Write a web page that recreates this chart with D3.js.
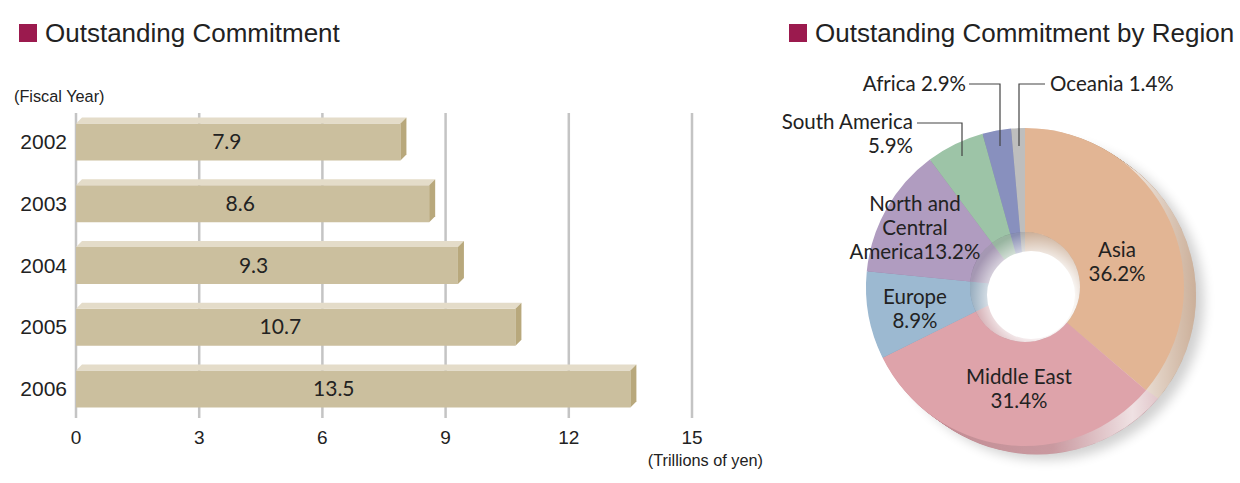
<!DOCTYPE html>
<html><head><meta charset="utf-8">
<script src="https://cdn.jsdelivr.net/npm/d3@7/dist/d3.min.js"></script>
<style>
html,body{margin:0;padding:0;background:#fff;}
svg{display:block;}
</style></head>
<body><svg id="c" width="1240" height="483"></svg>
<script>
// ---- data ----
const years = ["2002","2003","2004","2005","2006"];
const commitment = [7.9, 8.6, 9.3, 10.7, 13.5];
const xTicks = [0, 3, 6, 9, 12, 15];
const regions = ["Asia","Middle East","Europe","North and Central America","South America","Africa","Oceania"];
const regionShare = [36.2, 31.4, 8.9, 13.2, 5.9, 2.9, 1.4];

// ---- styles ----
const regionColor = ["#e2b594","#dea3aa","#9cb9d1","#b09cc0","#9dc4a7","#8890be","#bebebe"];
const regionSide  = ["#bf9c80","#c08890","#7f9ab0","#8f7ea0","#7fa389","#6c73a0","#9c9c9c"];
const svg = d3.select("#c");
const titleFont = "'Liberation Sans', Arial, Helvetica, sans-serif";
const labelFont = "Lato, 'Open Sans', sans-serif";

// ---- titles ----
function title(x, y, txt){
  svg.append("rect").attr("x",x).attr("y",y).attr("width",18).attr("height",18).attr("fill","#9b1a4e");
  svg.append("text").attr("x",x+26).attr("y",y+18).attr("font-family",titleFont)
    .attr("font-size",26).attr("fill","#222").text(txt);
}
title(19, 24, "Outstanding Commitment");
title(789, 24, "Outstanding Commitment by Region");

// ---- bar chart ----
const x = d3.scaleLinear().domain([0,15]).range([76,692]);
const y = d3.scalePoint().domain(years).range([142,389]);
const bh = 37, dep = 6;

svg.append("text").attr("x",14).attr("y",102).attr("font-family",titleFont)
  .attr("font-size",16.3).attr("fill","#222").text("(Fiscal Year)");

const grid = svg.append("g");
xTicks.forEach(t=>{
  grid.append("line").attr("x1",x(t)).attr("x2",x(t)).attr("y1",113).attr("y2",418)
    .attr("stroke","#c4c4c4").attr("stroke-width",2.5);
  svg.append("text").attr("x",x(t)).attr("y",444).attr("text-anchor","middle")
    .attr("font-family",titleFont).attr("font-size",19).attr("fill","#222").text(t);
});
svg.append("text").attr("x",763).attr("y",466).attr("text-anchor","end").attr("font-family",titleFont)
  .attr("font-size",16.3).attr("fill","#222").text("(Trillions of yen)");

const bars = svg.append("g");
years.forEach((yr,i)=>{
  const v = commitment[i];
  const x0 = x(0), x1 = x(v), yt = y(yr)-bh/2, yb = y(yr)+bh/2;
  bars.append("rect").attr("x",x0).attr("y",yt).attr("width",x1-x0).attr("height",bh).attr("fill","#cbbf9e");
  bars.append("path").attr("d",`M${x0},${yt}L${x0+dep},${yt-dep}L${x1+dep},${yt-dep}L${x1},${yt}Z`).attr("fill","#e4dcc9");
  bars.append("path").attr("d",`M${x1},${yt}L${x1+dep},${yt-dep}L${x1+dep},${yb-dep}L${x1},${yb}Z`).attr("fill","#b8a87c");
  svg.append("text").attr("x",x0+(x1-x0)*0.465).attr("y",y(yr)+7).attr("text-anchor","middle")
    .attr("font-family",labelFont).attr("font-size",21).attr("fill","#222").text(v.toFixed(1));
  svg.append("text").attr("x",67).attr("y",y(yr)+7).attr("text-anchor","end")
    .attr("font-family",titleFont).attr("font-size",21).attr("fill","#222").text(yr);
});

// ---- donut ----
const cx = 1025, cy = 287, R = 159, rIn = 55;
const pie = d3.pie().sort(null).value(d=>d)(regionShare);
const defs = svg.append("defs");
const blur = defs.append("filter").attr("id","blur").attr("x","-20%").attr("y","-20%").attr("width","140%").attr("height","140%");
blur.append("feGaussianBlur").attr("stdDeviation",6);
const gl = defs.append("linearGradient").attr("id","sideLight").attr("x1","0").attr("y1","0").attr("x2","1").attr("y2","0");
gl.append("stop").attr("offset","0").attr("stop-color","#fff").attr("stop-opacity",0);
gl.append("stop").attr("offset","0.55").attr("stop-color","#fff").attr("stop-opacity",0.15);
gl.append("stop").attr("offset","0.8").attr("stop-color","#fff").attr("stop-opacity",0.75);
gl.append("stop").attr("offset","1").attr("stop-color","#fff").attr("stop-opacity",0.2);

const dg = svg.append("g").attr("transform",`translate(${cx},${cy})`);
dg.append("circle").attr("cx",20).attr("cy",14).attr("r",R).attr("fill","#000").attr("opacity",0.18).attr("filter","url(#blur)");
const arcOuter = d3.arc().innerRadius(0).outerRadius(R);
for(let k=12;k>=1;k--){
  dg.append("g").attr("transform",`translate(${k},${k*0.7})`)
    .selectAll("path").data(pie).join("path").attr("d",arcOuter).attr("fill",(d,i)=>regionSide[i]);
}
dg.append("circle").attr("cx",12).attr("cy",8.4).attr("r",R).attr("fill","url(#sideLight)");
const arcTop = d3.arc().innerRadius(rIn).outerRadius(R);
dg.selectAll("path.top").data(pie).join("path").attr("class","top").attr("d",arcTop).attr("fill",(d,i)=>regionColor[i]);
const rg = defs.append("radialGradient").attr("id","wall").attr("cx","0.6").attr("cy","0.6").attr("r","0.6");
rg.append("stop").attr("offset","0.6").attr("stop-color","#fff").attr("stop-opacity",0.9);
rg.append("stop").attr("offset","1").attr("stop-color","#fff").attr("stop-opacity",0.2);
const arcWall = d3.arc().innerRadius(0).outerRadius(rIn);
dg.selectAll("path.wall").data(pie).join("path").attr("class","wall").attr("d",arcWall).attr("fill",(d,i)=>regionSide[i]);
dg.append("circle").attr("r",rIn).attr("fill","url(#wall)");
dg.append("circle").attr("cx",6).attr("cy",8).attr("r",44).attr("fill","#fff");

// labels
const lab = svg.append("g").attr("font-family",labelFont).attr("font-size",20.5).attr("fill","#222");
function mtext(xp, yp, lines, anchor){
  lines.forEach((l,j)=>lab.append("text").attr("x",xp).attr("y",yp+j*24).attr("text-anchor",anchor||"middle").text(l));
}
const pct = i => regionShare[i].toFixed(1)+"%";
mtext(1117, 257, [regions[0], pct(0)]);
mtext(1019, 384, [regions[1], pct(1)]);
mtext(915, 304, [regions[2], pct(2)]);
mtext(915, 211, ["North and","Central","America"+pct(3)]);
mtext(913, 129, [regions[4], pct(4)], "end");
mtext(966, 91, [regions[5]+" "+pct(5)], "end");
mtext(1050, 91, [regions[6]+" "+pct(6)], "start");
const ll = svg.append("g").attr("fill","none").attr("stroke","#444").attr("stroke-width",1.2);
ll.append("path").attr("d","M917,123H962V156");
ll.append("path").attr("d","M969,84H1000V146");
ll.append("path").attr("d","M1045,84H1019V146");
</script></body></html>
